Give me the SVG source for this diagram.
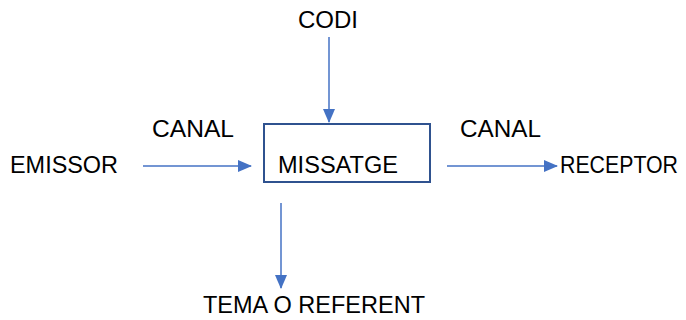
<svg xmlns="http://www.w3.org/2000/svg" width="686" height="320" viewBox="0 0 686 320">
<style>
.t{font-family:"Liberation Sans",Arial,sans-serif;font-size:23px;fill:#000}
.c{stroke:#4472C4;stroke-width:1.5;fill:none}
</style>
<defs>
<marker id="ah" markerWidth="14" markerHeight="12" refX="13" refY="6" orient="auto" markerUnits="userSpaceOnUse" viewBox="0 0 14 12">
<path d="M0,0 L14,6 L0,12 z" fill="#4472C4"/>
</marker>
</defs>
<rect width="686" height="320" fill="#fff"/>
<g id="connectors">
<path class="c" d="M143,166 H251" marker-end="url(#ah)"/>
<path class="c" d="M447,166 H557" marker-end="url(#ah)"/>
<path class="c" d="M329,37 V122" marker-end="url(#ah)"/>
<path class="c" d="M281,203 V288" marker-end="url(#ah)"/>
</g>
<g id="missatge">
<rect x="264" y="124" width="166" height="58" fill="#fff" stroke="#2F528F" stroke-width="2"/>
<text class="t" x="278" y="173" textLength="120" lengthAdjust="spacingAndGlyphs">MISSATGE</text>
</g>
<g id="codi"><text class="t" x="298" y="28" textLength="60" lengthAdjust="spacingAndGlyphs">CODI</text></g>
<g id="emissor"><text class="t" x="10" y="173" textLength="108" lengthAdjust="spacingAndGlyphs">EMISSOR</text></g>
<g id="receptor"><text class="t" x="560" y="173" textLength="118" lengthAdjust="spacingAndGlyphs">RECEPTOR</text></g>
<g id="canal1"><text class="t" x="152" y="137" textLength="82" lengthAdjust="spacingAndGlyphs">CANAL</text></g>
<g id="canal2"><text class="t" x="460" y="137" textLength="81" lengthAdjust="spacingAndGlyphs">CANAL</text></g>
<g id="tema"><text class="t" x="203" y="313" textLength="222" lengthAdjust="spacingAndGlyphs">TEMA O REFERENT</text></g>
</svg>
